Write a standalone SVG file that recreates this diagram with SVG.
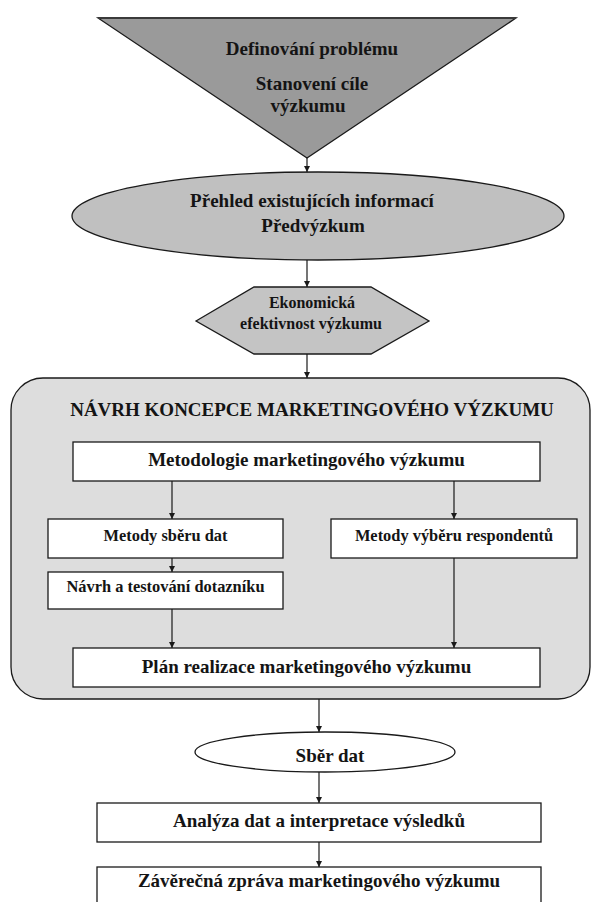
<svg xmlns="http://www.w3.org/2000/svg" width="595" height="902" viewBox="0 0 595 902">
<defs>
<style>
text{font-family:"Liberation Serif","Times New Roman",serif;font-weight:bold;fill:#141414;text-anchor:middle}
.t19{font-size:19px}
.t16{font-size:16.4px}
.t16h{font-size:16px}
.shape{stroke:#1a1a1a;stroke-width:1.3}
.box{fill:#ffffff;stroke:#1a1a1a;stroke-width:1.3}
.conn line{stroke:#1a1a1a;stroke-width:1.2;marker-end:url(#ah)}
</style>
<marker id="ah" viewBox="0 0 8 8" refX="8" refY="4" markerWidth="6" markerHeight="7" markerUnits="userSpaceOnUse" orient="auto">
<path d="M0,0 L8,4 L0,8 Z" fill="#1a1a1a"/>
</marker>
</defs>
<rect width="595" height="902" fill="#ffffff"/>

<g id="n-definovani">
<polygon class="shape" points="98,18 516,18 307,158" fill="#9a9a9a"/>
<line x1="98" y1="18" x2="516" y2="18" stroke="#3a3a3a" stroke-width="2"/>
<text class="t19" x="312" y="55">Definování problému</text>
<text class="t19" x="312" y="90">Stanovení cíle</text>
<text class="t19" x="308" y="112">výzkumu</text>
</g>

<g id="n-prehled">
<ellipse class="shape" cx="318" cy="216" rx="246" ry="44" fill="#c0c0c0"/>
<text class="t19" x="312" y="207">Přehled existujících informací</text>
<text class="t19" x="313" y="232">Předvýzkum</text>
</g>

<g id="n-ekonomicka">
<polygon class="shape" points="196,321 254,287 371,287 429,321 371,354 254,354" fill="#c4c4c4"/>
<text class="t16h" x="312" y="308">Ekonomická</text>
<text class="t16h" x="311" y="329">efektivnost výzkumu</text>
</g>

<g id="n-navrh-koncepce">
<rect class="shape" x="11" y="378" width="579" height="321" rx="32" ry="32" fill="#dddddd"/>
<text class="t19" x="312" y="416">NÁVRH KONCEPCE MARKETINGOVÉHO VÝZKUMU</text>
</g>

<g id="n-metodologie">
<rect class="box" x="73" y="442" width="467" height="39"/>
<text class="t19" x="306.5" y="466">Metodologie marketingového výzkumu</text>
</g>

<g id="n-metody-sberu">
<rect class="box" x="48" y="519" width="235" height="39"/>
<text class="t16" x="165.5" y="541">Metody sběru dat</text>
</g>

<g id="n-metody-vyberu">
<rect class="box" x="331" y="519" width="246" height="39"/>
<text class="t16" x="454" y="541">Metody výběru respondentů</text>
</g>

<g id="n-navrh-dotazniku">
<rect class="box" x="48" y="572" width="235" height="37"/>
<text class="t16" x="165.5" y="592">Návrh a testování dotazníku</text>
</g>

<g id="n-plan">
<rect class="box" x="73" y="648" width="467" height="39"/>
<text class="t19" x="306.5" y="673">Plán realizace marketingového výzkumu</text>
</g>

<g id="n-sber">
<ellipse class="box" cx="325" cy="752" rx="130" ry="20"/>
<text class="t19" x="330" y="762">Sběr dat</text>
</g>

<g id="n-analyza">
<rect class="box" x="97" y="803" width="444" height="39"/>
<text class="t19" x="319" y="827">Analýza dat a interpretace výsledků</text>
</g>

<g id="n-zprava">
<rect class="box" x="97" y="867" width="444" height="50"/>
<text class="t19" x="319" y="887">Závěrečná zpráva marketingového výzkumu</text>
</g>

<g id="connectors" class="conn">
<line x1="307" y1="158" x2="307" y2="172"/>
<line x1="307" y1="260" x2="307" y2="287"/>
<line x1="307" y1="354" x2="307" y2="378"/>
<line x1="172" y1="481" x2="172" y2="519"/>
<line x1="454" y1="481" x2="454" y2="519"/>
<line x1="172" y1="558" x2="172" y2="572"/>
<line x1="172" y1="609" x2="172" y2="648"/>
<line x1="454" y1="558" x2="454" y2="648"/>
<line x1="319" y1="699" x2="319" y2="732"/>
<line x1="319" y1="772" x2="319" y2="803"/>
<line x1="319" y1="842" x2="319" y2="867"/>
</g>
</svg>
